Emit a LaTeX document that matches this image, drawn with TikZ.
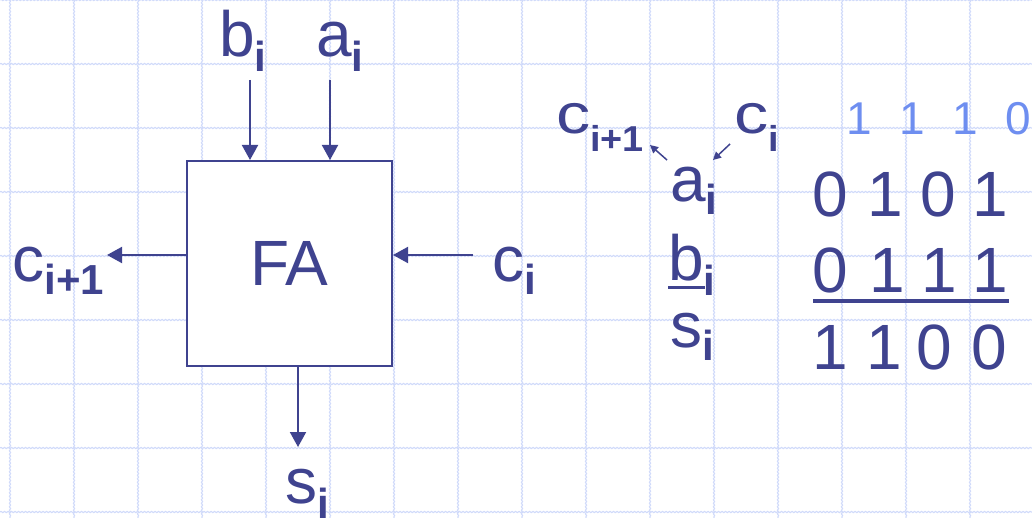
\documentclass[tikz,border=0pt]{standalone}
\usepackage{fontspec}
\usepackage{graphicx}
\setmainfont{Liberation Sans}
\usetikzlibrary{arrows.meta,decorations.pathmorphing}
\definecolor{ink}{RGB}{63,67,143}
\definecolor{carry}{RGB}{110,142,240}
\definecolor{gridc}{RGB}{208,218,250}
\newcommand{\lowsub}[3]{\raisebox{-#1}{\fontsize{#2}{#2}\selectfont\bfseries #3}}
\tikzset{
  gridline/.style={draw=gridc,line width=1.1pt,decorate,decoration={snake,amplitude=0.6pt,segment length=3.5pt}},
  big/.style={inner sep=0pt,text=ink,font=\fontsize{64}{64}\selectfont},
  mid/.style={inner sep=0pt,text=ink,font=\fontsize{56}{56}\selectfont},
  digit/.style={inner sep=0pt,text=ink,font=\fontsize{64}{64}\selectfont,anchor=base},
  cdigit/.style={inner sep=0pt,text=carry,font=\fontsize{46}{46}\selectfont,anchor=base},
  arr/.style={draw=ink,line width=2pt,-{Triangle[length=15pt,width=16pt]}},
  sarr/.style={draw=ink,line width=1.5pt,-{Triangle[length=8pt,width=8pt]}},
  fabox/.style={draw=ink,fill=white,line width=2pt,minimum width=205pt,minimum height=205pt,inner sep=0pt,text=ink,font=\fontsize{64}{64}\selectfont}
}
\begin{document}
\begin{tikzpicture}[x=1pt,y=-1pt]
\useasboundingbox (0,0) rectangle (1032,518);
% grid
\foreach \k in {0,...,16}{
  \draw[gridline] (10+64*\k,0) -- (10+64*\k,518);
}
\foreach \k in {0,...,8}{
  \draw[gridline] (0,64*\k) -- (1032,64*\k);
}
% full adder box
\node[fabox] (FA) at (289.5,263.5) {FA};
% labels around box
\node[big,anchor=base west] (bT) at (219,57) {b\lowsub{15pt}{42}{i}};
\node[big,anchor=base west] (aT) at (316,57) {a\lowsub{15pt}{42}{i}};
\node[big,anchor=base west] (cL) at (12.5,282) {c\lowsub{13pt}{42}{i+1}};
\node[big,anchor=base west] (cR) at (492.5,282) {c\lowsub{13pt}{42}{i}};
\node[big,anchor=base west] (sB) at (285,503) {s\lowsub{15pt}{42}{i}};
% connector ends
\coordinate (bin) at (250,80);
\coordinate (ain) at (330,80);
\coordinate (cin) at (473,255);
\coordinate (cout) at (107,255);
\coordinate (sout) at (298,447);
\draw[arr] (bin) -- (bin |- FA.north);
\draw[arr] (ain) -- (ain |- FA.north);
\draw[arr] (cin) -- (cin -| FA.east);
\draw[arr] (cout -| FA.west) -- (cout);
\draw[arr] (sout |- FA.south) -- (sout);
% right side column
\node[mid,anchor=base west] (c1) at (556,134) {\scalebox{1.22}[1]{c}\scalebox{1.05}[1]{\lowsub{18pt}{36}{i+1}}};
\node[mid,anchor=base west] (c0) at (734,134) {\scalebox{1.22}[1]{c}\scalebox{1.05}[1]{\lowsub{18pt}{36}{i}}};
\node[big,anchor=base west] (aR) at (670,202) {a\lowsub{13pt}{42}{i}};
\node[big,anchor=base west] (bR) at (668,280) {b\lowsub{15pt}{42}{i}};
\node[big,anchor=base west] (sR) at (670,347) {s\lowsub{13pt}{42}{i}};
\draw[draw=ink,line width=3pt] ([yshift=-8pt]bR.base west) -- ++(37,0);
\coordinate (s1a) at (667,160);
\coordinate (s1b) at (650,145);
\coordinate (s2a) at (730,144);
\coordinate (s2b) at (713,160);
\draw[sarr] (s1a) -- (s1b);
\draw[sarr] (s2a) -- (s2b);
% carries
\node[cdigit] (k1) at (859,135) {1};
\node[cdigit] (k2) at (912,135) {1};
\node[cdigit] (k3) at (965,135) {1};
\node[cdigit] (k4) at (1018,135) {0};
% operand 1
\node[digit] (p1) at (830,217) {0};
\node[digit] (p2) at (885,217) {1};
\node[digit] (p3) at (938,217) {0};
\node[digit] (p4) at (990,217) {1};
% operand 2
\node[digit] (q1) at (830,293) {0};
\node[digit] (q2) at (887,293) {1};
\node[digit] (q3) at (939,293) {1};
\node[digit] (q4) at (990,293) {1};
\coordinate (sumL) at (813,301);
\coordinate (sumR) at (1009,301);
\draw[draw=ink,line width=4pt] (sumL) -- (sumR);
% result
\node[digit] (r1) at (830,369) {1};
\node[digit] (r2) at (884,369) {1};
\node[digit] (r3) at (934,369) {0};
\node[digit] (r4) at (989,369) {0};
\end{tikzpicture}
\end{document}
